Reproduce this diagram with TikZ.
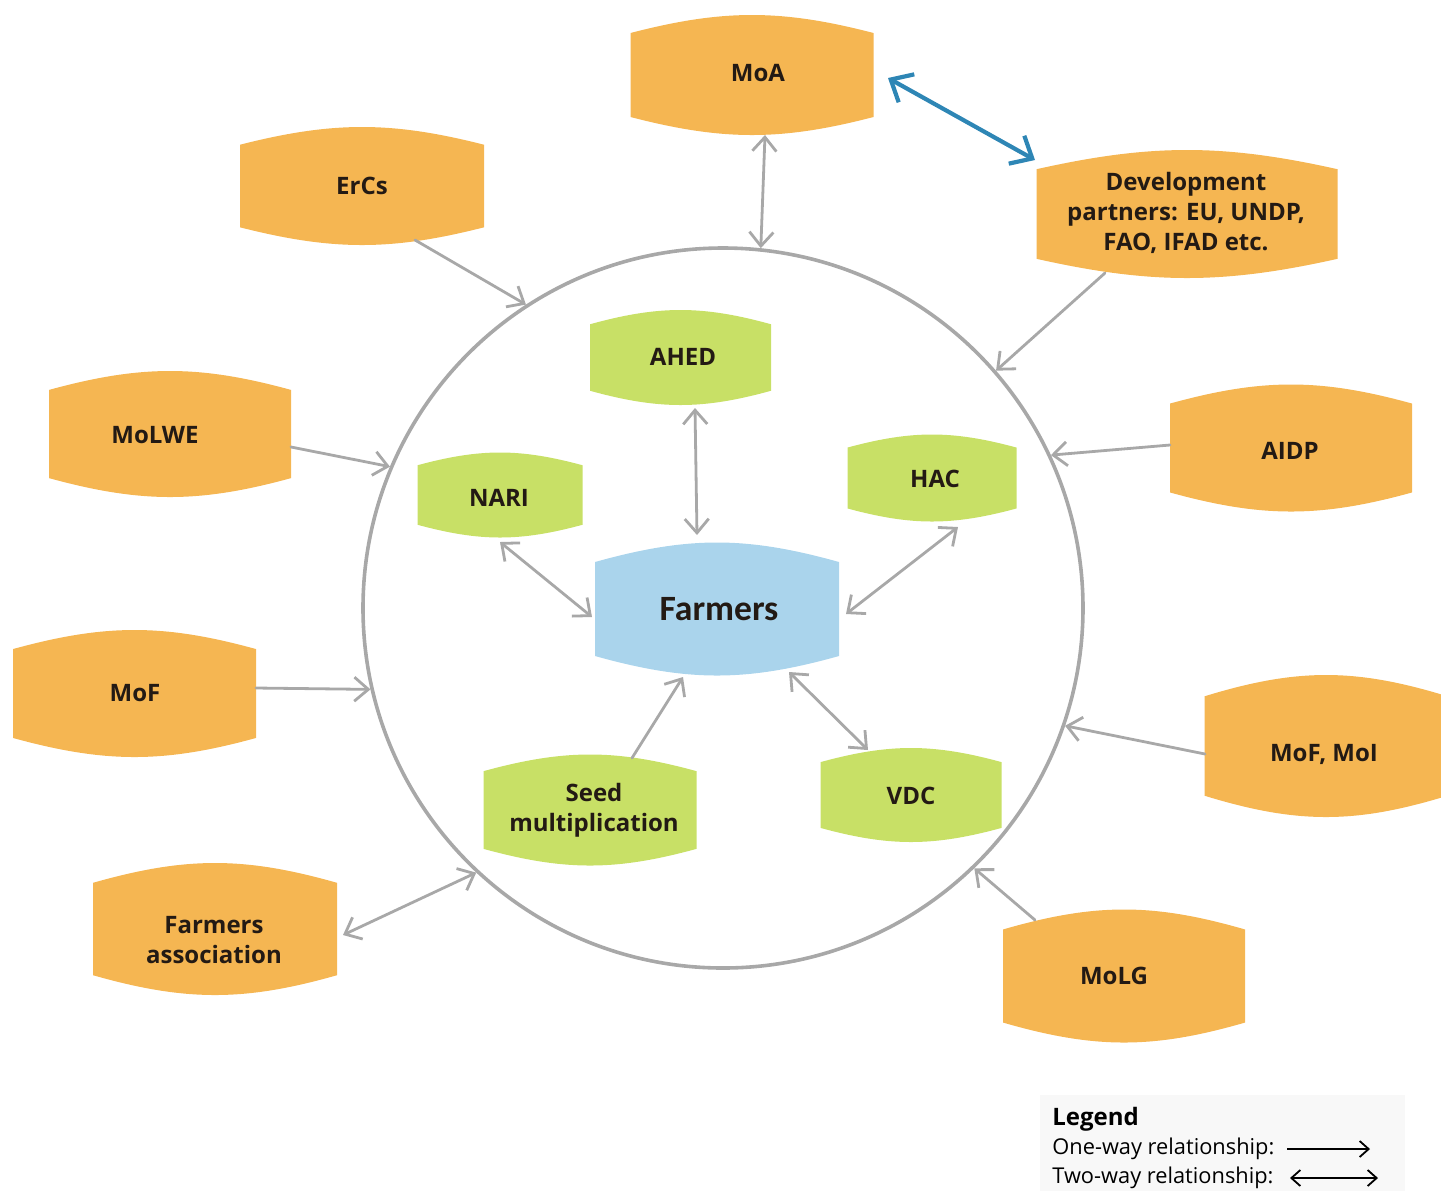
\documentclass[tikz,border=0pt]{standalone}
\usepackage{fontspec}
\setmainfont{Open Sans}
\newfontfamily\calfont{Carlito}
\usetikzlibrary{arrows.meta,calc}

\definecolor{boxorange}{HTML}{F5B652}
\definecolor{boxgreen}{HTML}{C8E066}
\definecolor{boxblue}{HTML}{AAD4EC}
\definecolor{linkgray}{HTML}{A8A8A8}
\definecolor{linkblue}{HTML}{2E86B5}
\definecolor{inkdark}{HTML}{231A14}
\definecolor{legendbg}{HTML}{F8F8F8}

\tikzset{
  lbl/.style={font=\fontsize{12}{15}\selectfont\bfseries, text=inkdark, align=center, inner sep=0pt},
  link/.style={draw=linkgray, line width=1.4pt, line cap=round},
  one/.style={link, -{Straight Barb[length=7pt,width=12pt]}},
  two/.style={link, {Straight Barb[length=7pt,width=12pt]}-{Straight Barb[length=7pt,width=12pt]}},
  bluetwo/.style={draw=linkblue, line width=2.1pt, line cap=round,
    {Straight Barb[length=9pt,width=16pt]}-{Straight Barb[length=9pt,width=16pt]}},
  legarrow/.style={draw=black, line width=0.9pt,
    -{Straight Barb[length=4.5pt,width=8pt]}},
  legtwo/.style={draw=black, line width=0.9pt,
    {Straight Barb[length=4.5pt,width=8pt]}-{Straight Barb[length=4.5pt,width=8pt]}},
  legtext/.style={font=\fontsize{10.9}{13}\selectfont, text=black, inner sep=0pt, anchor=base west},
}

% #1 name, #2 fill, #3 cx, #4 cy, #5 width, #6 height, #7 tx, #8 ty, #9 text
% straight-ish sloping shoulders rising to a rounded crest, top and bottom
\newcommand\blob[9]{%
  \fill[#2] ({#3-#5/2},{#4-#6/2+0.15*#6})
    .. controls ({#3-0.12*#5},{#4-#6/2-0.05*#6}) and ({#3+0.12*#5},{#4-#6/2-0.05*#6})
    .. ({#3+#5/2},{#4-#6/2+0.15*#6})
    -- ({#3+#5/2},{#4+#6/2-0.15*#6})
    .. controls ({#3+0.12*#5},{#4+#6/2+0.05*#6}) and ({#3-0.12*#5},{#4+#6/2+0.05*#6})
    .. ({#3-#5/2},{#4+#6/2-0.15*#6}) -- cycle;
  \node[lbl] (#1) at (#7,#8) {#9};}

\begin{document}
\begin{tikzpicture}[x=0.5pt,y=-0.5pt]
\useasboundingbox (0,0) rectangle (1441,1191);

% outer ring
\node[draw=linkgray, line width=1.8pt, circle, minimum size=360pt, inner sep=0pt] (ring) at (723,608) {};

% outer actors
\blob{moa}{boxorange}{752}{75}{243}{120}{758}{73}{MoA}
\blob{ercs}{boxorange}{362}{186}{244}{118}{362}{186}{ErCs}
\blob{dev}{boxorange}{1187}{214}{301}{128}{1186}{213}{Development\\partners: EU, UNDP,\\FAO, IFAD etc.}
\blob{molwe}{boxorange}{170}{434}{242}{126}{155}{435}{MoLWE}
\blob{aidp}{boxorange}{1291}{448}{242}{127}{1290}{451}{AIDP}
\blob{mof}{boxorange}{134.5}{693.5}{243}{127}{135}{693}{MoF}
\blob{mofmoi}{boxorange}{1326}{746}{243}{142}{1324}{754}{MoF, MoI}
\blob{fassoc}{boxorange}{215}{929}{244}{132}{214}{940}{Farmers\\association}
\blob{molg}{boxorange}{1124}{976}{242}{133}{1114}{976}{MoLG}

% inner actors
\blob{ahed}{boxgreen}{680.5}{357.5}{181}{95}{683}{357}{AHED}
\blob{nari}{boxgreen}{500}{495}{165}{85}{499}{498}{NARI}
\blob{hac}{boxgreen}{932}{478}{169}{87}{935}{479}{HAC}
\blob{seed}{boxgreen}{590}{810}{213}{111}{594}{810}{Seed\\multiplication}
\blob{vdc}{boxgreen}{911}{795}{181}{94}{911}{796}{VDC}

% centre
\fill[boxblue] (595,562) .. controls (688,536) and (746,536) .. (839,562)
  -- (839,656) .. controls (746,682) and (688,682) .. (595,656) -- cycle;
\node[font=\calfont\fontsize{17.8}{20}\selectfont\bfseries, text=inkdark, inner sep=0pt] (farmers) at (719,609) {Farmers};

% links to the ring
\draw[two] ($(moa)+(7,62)$) -- (ring.84.6);
\draw[one] ($(ercs)+(53,54)$) -- (ring.123.5);
\draw[one] ($(dev)+(-81,60)$) -- (ring.41);
\draw[one] ($(molwe)+(136,12)$) -- (ring.157.5);
\draw[one] ($(aidp)+(-120,-6)$) -- (ring.25.4);
\draw[one] ($(mof)+(121,-5)$) -- (ring.193.5);
\draw[one] ($(mofmoi)+(-119,0)$) -- (ring.341.2);
\draw[two] ($(fassoc)+(129,-5)$) -- (ring.227.2);
\draw[one] ($(molg)+(-79,-56)$) -- (ring.314.7);

% ministry <-> development partners
\draw[bluetwo] ($(moa)+(130,5)$) -- ($(dev)+(-151,-53)$);

% links to farmers
\draw[two] ($(ahed)+(12,51)$) -- ($(farmers)+(-22,-74)$);
\draw[two] ($(nari)+(1,44)$) -- ($(farmers)+(-127,8)$);
\draw[two] ($(hac)+(23,48)$) -- ($(farmers)+(127,5)$);
\draw[one] ($(seed)+(38,-52)$) -- ($(farmers)+(-36,68)$);
\draw[two] ($(vdc)+(-43,-46)$) -- ($(farmers)+(70,63)$);

% legend
\fill[legendbg] (1040,1095) rectangle (1405,1191);
\node[legtext, font=\fontsize{12}{14}\selectfont\bfseries] (legtitle) at (1052,1125) {Legend};
\node[legtext] (legone) at (1052,1154) {One-way relationship:};
\node[legtext] (legtwoway) at (1052,1183) {Two-way relationship:};
\coordinate (onea) at (1287,1149);
\coordinate (oneb) at (1370,1149);
\coordinate (twoa) at (1290,1178);
\coordinate (twob) at (1378,1178);
\draw[legarrow] (onea) -- (oneb);
\draw[legtwo] (twoa) -- (twob);
\end{tikzpicture}
\end{document}
